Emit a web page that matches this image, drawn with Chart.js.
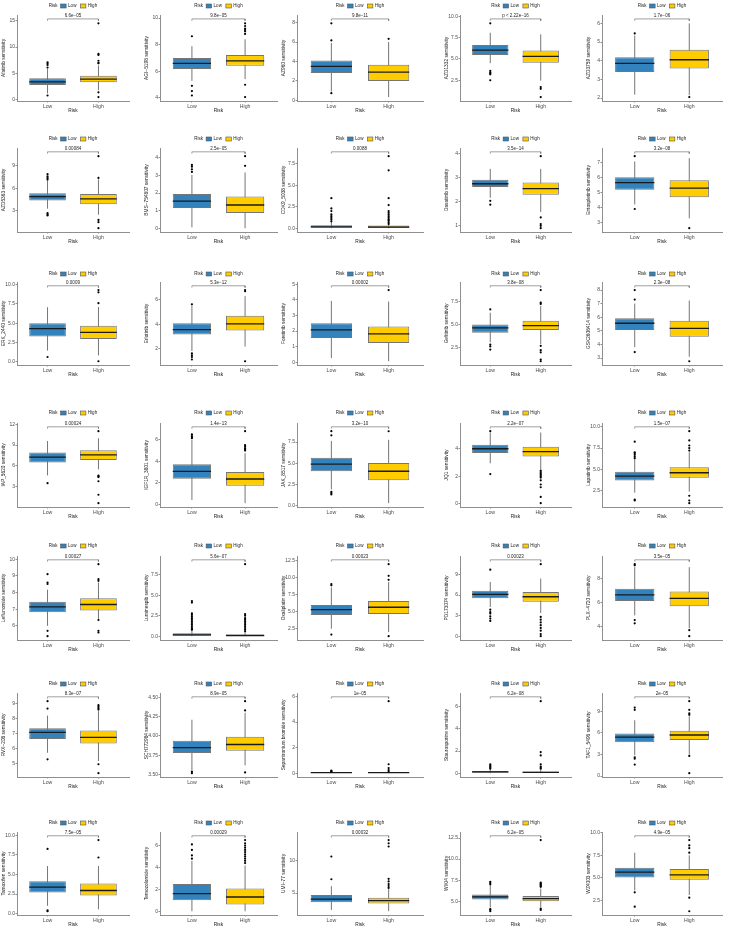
<!DOCTYPE html>
<html>
<head>
<meta charset="utf-8">
<script src="https://cdn.jsdelivr.net/npm/chart.js@4.4.1/dist/chart.umd.min.js"></script>
<style>
html, body { margin: 0; padding: 0; background: #fff; }
#page { position: relative; width: 730px; height: 935px; overflow: hidden; background: #fff; }
#page canvas { position: absolute; }
</style>
</head>
<body>
<div id="page"></div>
<script>
// Global styles
Chart.defaults.font.family = "'Liberation Sans', Arial, sans-serif";
Chart.defaults.color = '#4d4d4d';

const lowBlue = '#3182bd';
const highYellow = '#ffcc00';
const edgeGrey = '#757575';
const axisGrey = '#8f8f8f';

// Drugs, one panel each (5 x 7 grid)
const drugs = [
  'Afatinib', 'AGI−5198', 'AZ960', 'AZD1332', 'AZD3759',
  'AZD5363', 'BMS−754807', 'CDK9_5038', 'Dasatinib', 'Entospletinib',
  'ERK_2440', 'Erlotinib', 'Foretinib', 'Gefitinib', 'GSK2606414',
  'IAP_5620', 'IGF1R_3801', 'JAK_8517', 'JQ1', 'Lapatinib',
  'Leflunomide', 'Luminespib', 'Oxaliplatin', 'PD173074', 'PLX−4720',
  'RVX−208', 'SCH772984', 'Sepantronium bromide', 'Staurosporine', 'TAF1_5496',
  'Tamoxifen', 'Temozolomide', 'UMI−77', 'WIKI4', 'WZ4003'
];

const pLabels = [
  '6.6e−05', '9.8e−05', '9.8e−11', 'p < 2.22e−16', '1.7e−06',
  '0.00084', '2.5e−05', '0.0088', '3.5e−14', '3.2e−08',
  '0.0009', '5.3e−12', '0.00002', '3.8e−08', '2.3e−08',
  '0.00024', '1.4e−13', '3.2e−10', '2.2e−07', '1.5e−07',
  '0.00027', '5.6e−07', '0.00023', '0.00023', '3.5e−05',
  '8.3e−07', '8.9e−05', '1e−05', '6.2e−08', '2e−05',
  '7.5e−05', '0.00029', '0.00032', '6.2e−05', '4.9e−05'
];

const yTicks = [
  ['0','5','10','15'], ['4','6','8','10'], ['0','2','4','6','8'], ['2.5','5.0','7.5','10.0'], ['2','3','4','5','6'],
  ['3','6','9'], ['0','1','2','3','4'], ['0.0','2.5','5.0','7.5'], ['1','2','3','4'], ['3','4','5','6','7'],
  ['0.0','2.5','5.0','7.5','10.0'], ['2','4','6'], ['0','1','2','3','4','5'], ['2.5','5.0','7.5'], ['3','4','5','6','7','8'],
  ['3','6','9','12'], ['0','2','4','6'], ['0.0','2.5','5.0','7.5'], ['0','2','4'], ['2.5','5.0','7.5','10.0'],
  ['6','7','8','9','10'], ['0.0','2.5','5.0','7.5'], ['2.5','5.0','7.5','10.0','12.5'], ['0','3','6','9'], ['4','6','8'],
  ['5','6','7','8','9'], ['3.50','3.75','4.00','4.25','4.50'], ['0','2','4','6'], ['0','2','4','6'], ['0','3','6','9'],
  ['0.0','2.5','5.0','7.5','10.0'], ['0','2','4','6'], ['5','10'], ['5.0','7.5','10.0','12.5'], ['2.5','5.0','7.5','10.0']
];

// box stats: [whisker low, q1, median, q3, whisker high]
const lowBox = [
  [1.2,2.8,3.4,4.06,5.8], [5.27,6.17,6.58,7.0,7.88], [0.9,2.8,3.5,4.1,5.9], [4.5,5.45,6.02,6.63,8.07], [2.18,3.4,3.86,4.19,5.35],
  [3.3,4.4,4.9,5.34,7.1], [0.05,1.15,1.54,1.94,3.03], [0,0.05,0.15,0.35,0.75], [2.17,2.61,2.75,2.92,3.37], [4.2,5.17,5.65,6.0,7.05],
  [1.46,3.29,4.29,5.0,7.08], [1.8,3.15,3.55,4.08,5.5], [0.26,1.56,2.08,2.5,3.94], [3.04,4.09,4.6,4.97,6.25], [3.8,5.07,5.56,5.93,7.0],
  [4.64,6.48,7.26,7.93,9.58], [0.42,2.39,3.07,3.73,6.0], [1.9,4.05,4.89,5.64,7.65], [2.93,3.67,3.98,4.26,5.15], [2.23,3.67,4.17,4.7,6.2],
  [6.0,6.82,7.14,7.44,8.17], [0,0.05,0.15,0.35,0.75], [2.5,4.52,5.33,6.0,8.6], [4.25,5.52,6.1,6.63,7.9], [4.93,6.14,6.64,7.15,8.95],
  [5.7,6.63,7.07,7.35,8.2], [3.56,3.78,3.85,3.94,4.21], [0,0.02,0.04,0.06,0.1], [0,0.05,0.12,0.2,0.35], [2.9,4.7,5.4,5.9,7.75],
  [1.0,2.7,3.38,4.14,6.08], [0,1.0,1.6,2.48,4.6], [2.4,3.57,4.08,4.69,6.07], [4.24,5.19,5.5,5.8,6.9], [3.6,5.04,5.65,6.12,7.8]
];
const highBox = [
  [1.8,3.3,3.9,4.56,6.5], [5.4,6.41,6.78,7.22,8.4], [0.33,2.0,2.9,3.67,6.0], [2.46,4.55,5.3,5.98,7.88], [2.15,3.58,4.05,4.58,6.0],
  [2.5,3.9,4.6,5.25,7.2], [0.0,0.86,1.32,1.8,3.17], [0,0.05,0.12,0.3,0.7], [1.57,2.29,2.55,2.8,3.37], [3.28,4.67,5.28,5.8,7.27],
  [0.83,2.96,3.83,4.67,7.1], [2.16,3.49,4.03,4.69,6.3], [0.06,1.24,1.82,2.3,3.9], [2.87,4.39,4.86,5.37,6.99], [3.1,4.56,5.19,5.74,7.23],
  [5.5,6.87,7.6,8.27,9.97], [0.12,1.73,2.36,3.01,4.75], [0.27,2.99,4.05,5.04,7.77], [2.5,3.42,3.77,4.12,5.15], [2.35,3.98,4.58,5.23,7.0],
  [6.4,6.92,7.28,7.65,8.6], [0,0.02,0.08,0.25,0.55], [2.0,4.66,5.67,6.59,9.4], [3.38,5.03,5.75,6.43,8.4], [3.85,5.7,6.35,6.93,8.95],
  [5.15,6.33,6.74,7.2,8.5], [3.62,3.81,3.89,3.99,4.3], [0,0.02,0.04,0.06,0.1], [0,0.02,0.08,0.15,0.3], [3.0,5.0,5.7,6.3,8.3],
  [0.55,2.32,2.95,3.84,6.08], [0,0.62,1.3,2.07,4.17], [2.2,3.4,3.85,4.3,5.6], [4.3,5.0,5.3,5.6,6.5], [3.1,4.8,5.33,5.98,7.5]
];

const lowOut = [
  [0.8,6.1,6.6,6.9,7.1], [4.17,4.5,4.9,8.63], [0.73,6.17,7.93], [2.5,3.2,3.3,3.4,3.6,9.17], [5.46],
  [2.4,2.5,2.7,7.2,7.4,7.6,7.9], [3.2,3.35,3.5,3.6], [0.8,1.0,1.2,1.4,1.6,2.0,2.3,3.5], [1.88,2.04], [3.9,7.4],
  [0.63], [1.1,1.3,1.45,1.6,5.63], [], [2.26,2.6,2.8,6.6], [3.44,7.3,8.0],
  [3.53], [6.15,6.25,6.35,6.5], [1.3,1.45,1.6,8.3,8.8], [2.15,5.25], [1.3,1.4,6.3,6.5,6.7,6.9,7.0,8.26],
  [5.38,5.7,8.51,8.6,9.1], [0.8,0.9,1.0,1.2,1.4,1.6,1.8,2.0,2.2,2.4,2.6,2.8,4.1,4.3], [1.63,8.9,9.1], [2.22,2.56,2.9,3.3,3.5,3.86,9.7], [4.27,4.54,9.1,9.2],
  [5.26,8.67,9.17], [3.52,3.54], [0.13,0.16,0.2], [0.4,0.5,0.6,0.7,0.8], [1.6,2.4,2.6,9.2,9.5],
  [0.3,0.4,8.27], [4.8,5.1,5.6,6.1], [7.14,10.66], [3.8,3.95,4.05,7.0,7.15,7.3], [1.8,3.4]
];
const highOut = [
  [0.5,1.4,6.9,7.0,7.4,8.5,8.7,14.5], [4.05,4.98,8.8,9.0,9.1,9.2,9.4,9.6], [6.33], [0.53,1.5,1.7], [2.05],
  [0.7,1.5,1.8,7.4,10.3], [3.55,4.1], [0.5,0.7,0.9,1.0,1.2,1.4,1.6,1.8,2.0,2.7,3.5,6.75,8.4], [0.9,1.0,1.07,1.35,3.9], [2.63],
  [0.08,7.6,9.0,9.3], [0.96,6.7,6.8], [4.64], [1.0,1.18,1.96,2.2,2.67,7.2,7.33,8.7], [2.77],
  [0.65,1.86,3.8,4.4,4.5,4.6,11.0], [5.0,5.1,5.2,5.35,5.5,6.8], [8.79], [0.05,0.5,1.2,1.4,1.7,1.9,2.0,2.1,2.2,2.3,2.4], [0.98,1.3,1.86,7.2,7.5,7.8,8.4,9.5],
  [5.6,5.7,6.35,8.7,8.8,9.7], [0.6,0.8,1.0,1.2,1.4,1.6,1.8,2.0,2.2,2.5,2.7,8.8], [1.4,9.71,10.3,12.03], [0,0.3,0.8,1.2,1.6,2.0,2.4,2.8,10.5], [3.2,3.7],
  [4.33,4.93,8.6,8.7,8.8,8.9], [3.53,4.33,4.45], [0.15,0.25,0.4,0.7,5.64], [0.4,0.5,0.6,0.8,1.6,1.9,6.5], [0.4,2.8,8.5,8.7,9.2,10.4],
  [7.17,9.4], [4.4,4.6,4.8,5.0,5.2,5.4,5.6,5.8,6.0,6.2,6.5], [5.8,6.1,6.4,6.8,7.2,12.2,12.7,13.2], [3.95,4.1,6.7,6.8,6.9,7.0,7.1,7.2,12.27], [1.3,2.8,7.8,8.3,8.6,9.2]
];

// Grid layout (page pixels): y axis line x, right end of plot, legend y, plot top, x axis y
const colAxisX = [17, 160, 297, 460, 602];
const colRight = [130, 278, 424, 572, 723];
const rowLegend = [6, 139, 274, 413, 546, 684, 823];
const rowTop = [15, 148, 282, 423, 556, 693, 832];
const rowBase = [101, 232, 365, 507, 640, 777, 915];
const Y_W = 16;
const X_H = 13;
const HALF_BOX = 0.36;

// Legend "Risk [] Low [] High" + p-value label above bracket
const decorPlugin = {
  id: 'riskDecor',
  afterDraw(chart, args, opts) {
    const ctx = chart.ctx;
    const area = chart.chartArea;
    const xs = chart.scales.x, ys = chart.scales.y;
    ctx.save();
    ctx.font = "4.5px 'Liberation Sans', Arial, sans-serif";
    ctx.fillStyle = '#222';
    ctx.textAlign = 'center';
    ctx.textBaseline = 'bottom';
    ctx.fillText(opts.pText, xs.getPixelForValue(1.5), ys.getPixelForValue(opts.bracketY) - 1);

    // legend
    const wRisk = ctx.measureText('Risk').width;
    const wLow = ctx.measureText('Low').width;
    const wHigh = ctx.measureText('High').width;
    const keyW = 5.5, keyH = 4;
    const total = wRisk + 3 + keyW + 2 + wLow + 4 + keyW + 2 + wHigh;
    let x = (area.left + area.right) / 2 - total / 2;
    const y = opts.legendY;
    ctx.textAlign = 'left';
    ctx.textBaseline = 'middle';
    ctx.fillText('Risk', x, y);
    x += wRisk + 3;
    ctx.fillStyle = lowBlue;
    ctx.fillRect(x, y - keyH / 2, keyW, keyH);
    ctx.strokeStyle = '#555';
    ctx.lineWidth = 0.6;
    ctx.strokeRect(x, y - keyH / 2, keyW, keyH);
    x += keyW + 2;
    ctx.fillStyle = '#222';
    ctx.fillText('Low', x, y);
    x += wLow + 4;
    ctx.fillStyle = highYellow;
    ctx.fillRect(x, y - keyH / 2, keyW, keyH);
    ctx.strokeRect(x, y - keyH / 2, keyW, keyH);
    x += keyW + 2;
    ctx.fillStyle = '#222';
    ctx.fillText('High', x, y);
    ctx.restore();
  }
};

const page = document.getElementById('page');

function makePanel(i) {
  const r = Math.floor(i / 5), c = i % 5;
  const top = rowLegend[r] - 6;
  const left = colAxisX[c] - Y_W;
  const w = colRight[c] - colAxisX[c] + Y_W + 3;
  const h = rowBase[r] - top + X_H;

  const canvas = document.createElement('canvas');
  canvas.width = w;
  canvas.height = h;
  canvas.style.left = left + 'px';
  canvas.style.top = top + 'px';
  page.appendChild(canvas);

  const lo = lowBox[i], hi = highBox[i];
  const all = lo.concat(hi, lowOut[i], highOut[i]);
  const dMin = Math.min(...all), dMax = Math.max(...all);
  const span = dMax - dMin;
  const bracketY = dMax + 0.06 * span;
  const tick = 0.025 * span;
  const pad = 0.05 * (bracketY - dMin);
  const tickVals = yTicks[i].map(Number);

  const outPts = lowOut[i].map(v => ({ x: 1, y: v })).concat(highOut[i].map(v => ({ x: 2, y: v })));

  new Chart(canvas, {
    type: 'bar',
    data: {
      datasets: [
        {
          type: 'line',
          data: [{ x: 1, y: lo[0] }, { x: 1, y: lo[4] }, { x: 1.5, y: null }, { x: 2, y: hi[0] }, { x: 2, y: hi[4] }],
          borderColor: edgeGrey,
          borderWidth: 1,
          pointRadius: 0,
          spanGaps: false,
          order: 4
        },
        {
          type: 'bar',
          data: [{ x: 1, y: [lo[1], lo[3]] }, { x: 2, y: [hi[1], hi[3]] }],
          backgroundColor: [lowBlue, highYellow],
          borderColor: edgeGrey,
          borderWidth: 1,
          borderSkipped: false,
          categoryPercentage: HALF_BOX * 2,
          barPercentage: 1,
          order: 3
        },
        {
          type: 'line',
          data: [
            { x: 1 - HALF_BOX, y: lo[2] }, { x: 1 + HALF_BOX, y: lo[2] }, { x: 1.5, y: null },
            { x: 2 - HALF_BOX, y: hi[2] }, { x: 2 + HALF_BOX, y: hi[2] }
          ],
          borderColor: '#1a1a1a',
          borderWidth: 1.3,
          pointRadius: 0,
          spanGaps: false,
          order: 2
        },
        {
          type: 'line',
          data: outPts,
          showLine: false,
          pointRadius: 1.1,
          pointBorderWidth: 0,
          pointBackgroundColor: '#000',
          order: 1
        },
        {
          type: 'line',
          data: [{ x: 1, y: bracketY - tick }, { x: 1, y: bracketY }, { x: 2, y: bracketY }, { x: 2, y: bracketY - tick }],
          borderColor: '#777',
          borderWidth: 0.7,
          pointRadius: 0,
          order: 0
        }
      ]
    },
    options: {
      responsive: false,
      animation: false,
      events: [],
      layout: { padding: { top: rowTop[r] - top, right: 3, left: 0, bottom: 0 } },
      plugins: {
        legend: { display: false },
        tooltip: { enabled: false },
        riskDecor: { pText: pLabels[i], bracketY: bracketY, legendY: rowLegend[r] - top }
      },
      scales: {
        x: {
          type: 'linear',
          offset: false,
          min: 0.4,
          max: 2.6,
          afterBuildTicks: s => { s.ticks = [{ value: 1 }, { value: 2 }]; },
          afterFit: s => { s.height = X_H; },
          ticks: { callback: v => (v === 1 ? 'Low' : 'High'), font: { size: 5.2 }, padding: 1, maxRotation: 0, autoSkip: false },
          grid: { offset: false, drawOnChartArea: false, drawTicks: true, tickLength: 1.5, color: axisGrey },
          border: { color: axisGrey, width: 1 },
          title: { display: true, text: 'Risk', font: { size: 4.8 }, color: '#222', padding: 0 }
        },
        y: {
          type: 'linear',
          min: dMin - pad,
          max: bracketY + pad,
          afterBuildTicks: s => { s.ticks = tickVals.map(v => ({ value: v })); },
          afterFit: s => { s.width = Y_W; },
          ticks: { callback: (v, idx) => yTicks[i][idx], font: { size: 5 }, padding: 0.5 },
          grid: { drawOnChartArea: false, drawTicks: true, tickLength: 1.5, color: axisGrey },
          border: { color: axisGrey, width: 1 },
          title: { display: true, text: drugs[i] + ' sensitivity', font: { size: 4.8 }, color: '#222', padding: 0 }
        }
      }
    },
    plugins: [decorPlugin]
  });
}

for (let i = 0; i < drugs.length; i++) makePanel(i);
</script>
</body>
</html>
